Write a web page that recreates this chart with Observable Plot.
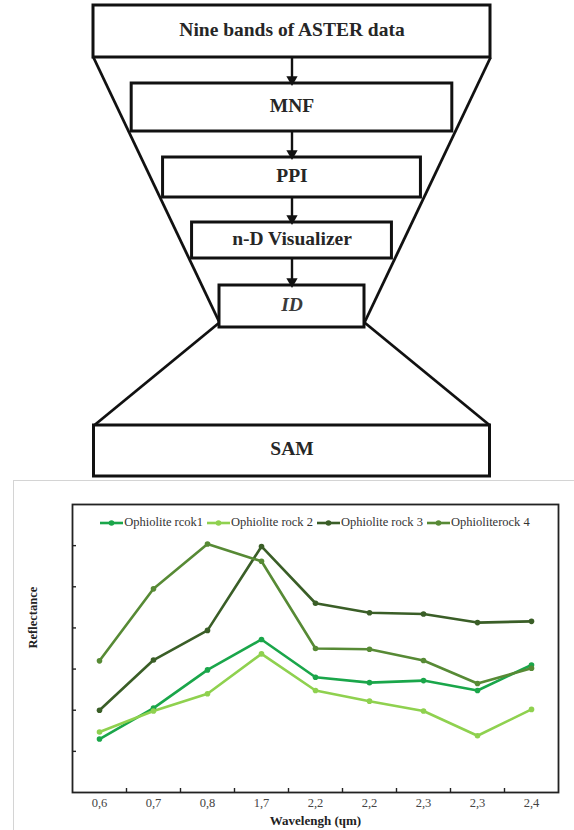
<!DOCTYPE html>
<html>
<head>
<meta charset="utf-8">
<script src="https://cdn.jsdelivr.net/npm/d3@7"></script>
<script src="https://cdn.jsdelivr.net/npm/@observablehq/plot@0.6"></script>
<style>
  body { margin: 0; background: #fff; }
  #page { position: relative; width: 574px; height: 830px; overflow: hidden; background: #fff; }
  #flow { position: absolute; left: 0; top: 0; }
  #chartBox { position: absolute; left: 13px; top: 480px; width: 600px; height: 400px;
              border-left: 1px solid #d4d4d4; border-top: 1px solid #d4d4d4; }
  #chart { position: absolute; left: 0; top: 0; }
  #legend { position: absolute; left: 58px; top: 34px; width: 486px; display: flex;
            justify-content: center; align-items: center; gap: 4px;
            font-family: "Liberation Serif", "Times New Roman", Times, serif; font-size: 12.5px;
            color: #333; white-space: nowrap; }
  #legend .item { display: flex; align-items: center; gap: 1px; }
  #legend svg { display: block; }
</style>
</head>
<body>
<div id="page">
  <div id="flow"></div>
  <div id="chartBox">
    <div id="chart"></div>
    <div id="legend"></div>
  </div>
</div>
<script>
// ---------- processing steps ----------
const steps = ["Nine bands of ASTER data", "MNF", "PPI", "n-D Visualizer", "ID", "SAM"];

// ---------- spectral profiles ----------
const wavelengthLabels = ["0,6", "0,7", "0,8", "1,7", "2,2", "2,2", "2,3", "2,3", "2,4"];
const seriesNames = ["Ophiolite rcok1", "Ophiolite rock 2", "Ophiolite rock 3", "Ophioliterock 4"];
const rock1 = [1.30, 2.05, 2.98, 3.72, 2.80, 2.67, 2.72, 2.48, 3.10];
const rock2 = [1.47, 1.98, 2.40, 3.37, 2.48, 2.22, 1.98, 1.38, 2.02];
const rock3 = [2.00, 3.22, 3.94, 5.98, 4.60, 4.37, 4.34, 4.13, 4.16];
const rock4 = [3.20, 4.95, 6.04, 5.62, 3.50, 3.48, 3.21, 2.65, 3.02];
const yTicks = [1, 2, 3, 4, 5, 6];
const seriesColors = ["#1aa64a", "#8fd14f", "#3a5e27", "#578a35"];

const serif = "'Liberation Serif', 'Times New Roman', Times, serif";

// ---------- flowchart layout ----------
const cx = 291.5;
const rowTop = [5, 83, 157, 222, 285, 425];
const rowBottom = [57, 131, 197, 258, 327, 476];
const funnelTop = {y: 57, hw: 198.5};
const funnelApex = {y: 322, hw: 72.5};
const funnelHalf = y => funnelTop.hw - (y - funnelTop.y) / (funnelApex.y - funnelTop.y) * (funnelTop.hw - funnelApex.hw);
const halfWidths = steps.map((s, i) =>
  i === 0 ? funnelTop.hw : i === steps.length - 1 ? 198 : i === 4 ? funnelApex.hw : funnelHalf(rowBottom[i]) - 3);

const boxes = steps.map((label, i) => ({
  label, x1: cx - halfWidths[i], x2: cx + halfWidths[i], y1: rowTop[i], y2: rowBottom[i],
  italic: label === "ID"
}));
const samHw = halfWidths[steps.length - 1];
const guides = [
  {x1: cx - funnelTop.hw, y1: funnelTop.y, x2: cx - funnelApex.hw, y2: funnelApex.y},
  {x1: cx + funnelTop.hw, y1: funnelTop.y, x2: cx + funnelApex.hw, y2: funnelApex.y},
  {x1: cx - funnelApex.hw, y1: funnelApex.y, x2: cx - samHw, y2: rowTop[5]},
  {x1: cx + funnelApex.hw, y1: funnelApex.y, x2: cx + samHw, y2: rowTop[5]}
];
const arrows = d3.range(4).map(i => ({x: cx, y1: rowBottom[i], y2: rowTop[i + 1] - 5}));
const labelY = d => (d.y1 + d.y2) / 2 - 2;

const flow = Plot.plot({
  width: 574, height: 480, margin: 0,
  x: {type: "identity", axis: null}, y: {type: "identity", axis: null},
  style: {fontFamily: serif, background: "transparent"},
  marks: [
    Plot.link(guides, {x1: "x1", y1: "y1", x2: "x2", y2: "y2", stroke: "#111", strokeWidth: 2.8}),
    Plot.rect(boxes, {x1: "x1", x2: "x2", y1: "y1", y2: "y2", fill: "white", stroke: "#111", strokeWidth: 3}),
    Plot.link(arrows, {x1: "x", x2: "x", y1: "y1", y2: "y2", stroke: "#111", strokeWidth: 2.4}),
    Plot.dot(arrows, {x: "x", y: d => d.y2 + 1, symbol: "triangle", r: 4.2, rotate: 180, fill: "#111", stroke: "none"}),
    Plot.text(boxes.filter(d => !d.italic), {x: cx, y: labelY, text: "label",
      fontWeight: "bold", fontSize: 19.5, fill: "#262626"}),
    Plot.text(boxes.filter(d => d.italic), {x: cx, y: labelY, text: "label",
      fontWeight: "bold", fontStyle: "italic", fontSize: 19.5, fill: "#3a3a3a"})
  ]
});
document.getElementById("flow").append(flow);

// ---------- reflectance chart ----------
const seriesValues = [rock1, rock2, rock3, rock4];
const rows = seriesNames.flatMap((name, s) =>
  seriesValues[s].map((v, i) => ({series: name, band: i, value: v})));

const chart = Plot.plot({
  width: 561, height: 349,
  marginTop: 23, marginLeft: 58, marginRight: 17, marginBottom: 38,
  x: {type: "linear", domain: [-0.5, wavelengthLabels.length - 0.5]},
  y: {domain: [0, 7]},
  color: {domain: seriesNames, range: seriesColors},
  style: {fontFamily: serif, fontSize: "12.5px", color: "#444", background: "transparent"},
  marks: [
    Plot.axisY({ticks: yTicks, tickSize: -4, tickFormat: () => "", label: null, stroke: "#222", strokeWidth: 1.4}),
    Plot.axisX({ticks: d3.range(wavelengthLabels.length), tickFormat: i => wavelengthLabels[i],
      tickSize: 0, tickPadding: 6, label: null}),
    Plot.axisX({ticks: d3.range(wavelengthLabels.length - 1).map(i => i + 0.5), tickSize: -4,
      tickFormat: () => "", label: null, stroke: "#222", strokeWidth: 1.4}),
    Plot.frame({stroke: "#222", strokeWidth: 1.8}),
    Plot.line(rows, {x: "band", y: "value", z: "series", stroke: "series", strokeWidth: 2.6}),
    Plot.dot(rows, {x: "band", y: "value", fill: "series", r: 2.8}),
    Plot.text(["Reflectance"], {text: d => d, frameAnchor: "left", dx: -40, rotate: -90,
      fontWeight: "bold", fontSize: 12.5, fill: "#222"}),
    Plot.text(["Wavelengh (ɥm)"], {text: d => d, frameAnchor: "bottom", dy: 32,
      fontWeight: "bold", fontSize: 13, fill: "#222"})
  ]
});
document.getElementById("chart").append(chart);

// legend: line-and-dot swatch per series
const legend = d3.select("#legend");
seriesNames.forEach((name, s) => {
  const item = legend.append("div").attr("class", "item");
  const sw = item.append("svg").attr("width", 23).attr("height", 8);
  sw.append("line").attr("x1", 0).attr("x2", 23).attr("y1", 4).attr("y2", 4)
    .attr("stroke", seriesColors[s]).attr("stroke-width", 2.6);
  sw.append("circle").attr("cx", 11.5).attr("cy", 4).attr("r", 2.8).attr("fill", seriesColors[s]);
  item.append("span").text(name);
});
</script>
</body>
</html>
